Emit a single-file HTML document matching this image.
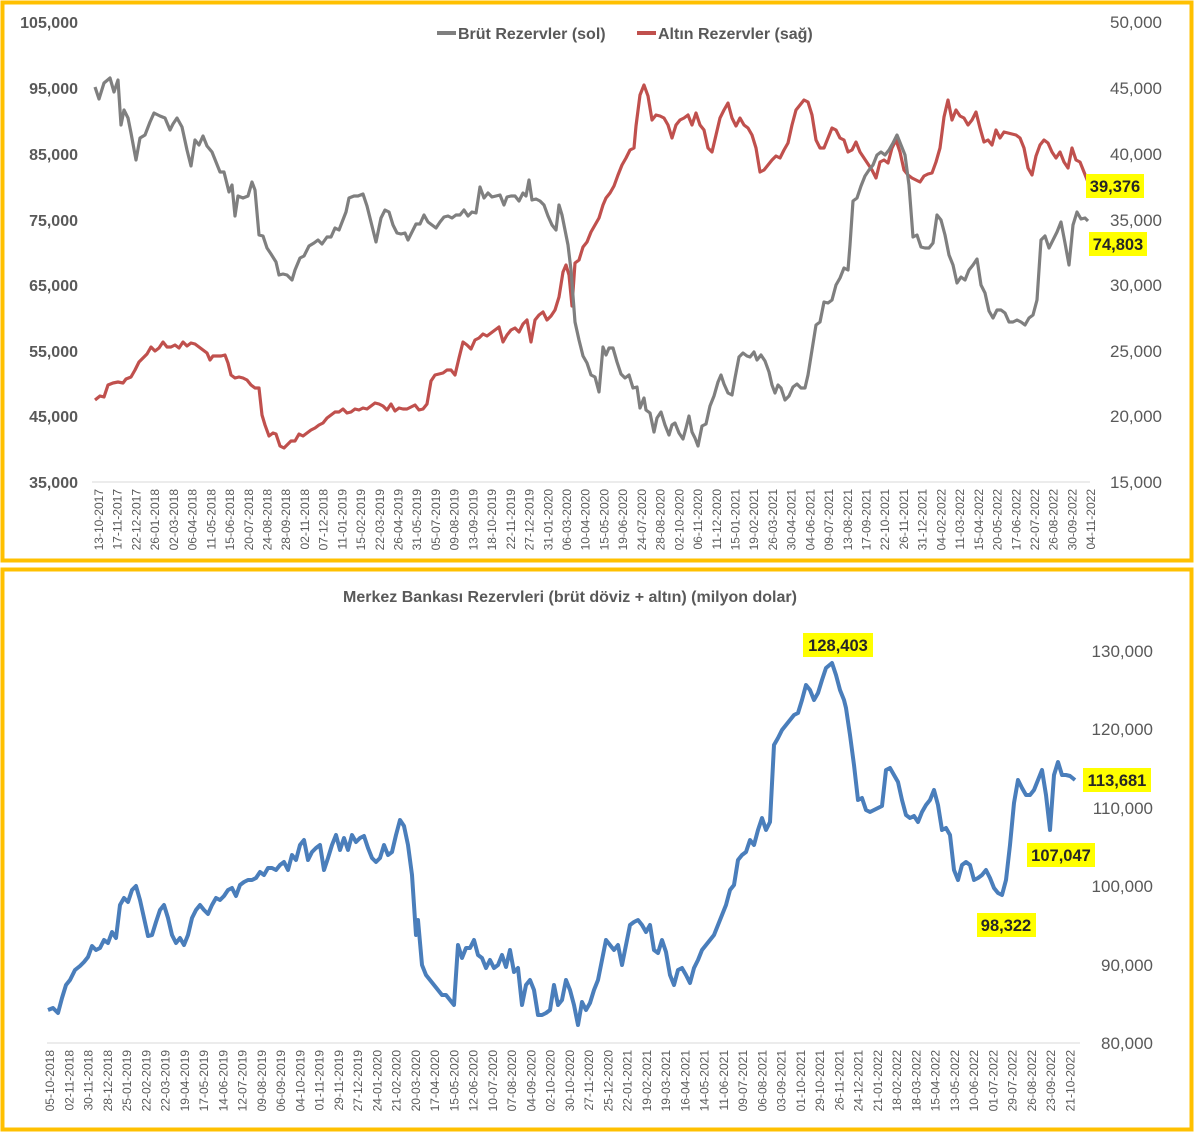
<!DOCTYPE html>
<html><head><meta charset="utf-8"><style>
html,body{margin:0;padding:0;background:#fff}
svg{display:block;font-family:"Liberation Sans",Arial,sans-serif}
.ax{font-size:16px;fill:#595959;font-weight:bold}
.xl{font-size:12px;fill:#595959}
.hl{font-size:16.5px;font-weight:bold;fill:#262626}
</style></head><body>
<svg width="1200" height="1133" viewBox="0 0 1200 1133" xmlns="http://www.w3.org/2000/svg">
<rect x="2.5" y="2.5" width="1189" height="558" fill="#fff" stroke="#FFC000" stroke-width="4"/>
<rect x="2.5" y="569.5" width="1189" height="560" fill="#fff" stroke="#FFC000" stroke-width="4"/>

<!-- TOP CHART -->
<line x1="92" y1="482" x2="1090" y2="482" stroke="#d9d9d9" stroke-width="1"/>
<g class="ax" text-anchor="end">
<text x="78" y="28">105,000</text><text x="78" y="94">95,000</text><text x="78" y="160">85,000</text><text x="78" y="226">75,000</text><text x="78" y="291">65,000</text><text x="78" y="357">55,000</text><text x="78" y="422">45,000</text><text x="78" y="488">35,000</text>
</g>
<g class="ax" text-anchor="end" style="font-weight:normal;font-size:17px">
<text x="1162" y="28">50,000</text><text x="1162" y="94">45,000</text><text x="1162" y="160">40,000</text><text x="1162" y="226">35,000</text><text x="1162" y="291">30,000</text><text x="1162" y="357">25,000</text><text x="1162" y="422">20,000</text><text x="1162" y="488">15,000</text>
</g>
<line x1="437" y1="33" x2="456" y2="33" stroke="#7f7f7f" stroke-width="4"/>
<text x="458" y="39" class="ax">Brüt Rezervler (sol)</text>
<line x1="637" y1="33" x2="656" y2="33" stroke="#C0504D" stroke-width="4"/>
<text x="658" y="39" class="ax">Altın Rezervler (sağ)</text>

<polyline fill="none" stroke="#C0504D" stroke-width="3.2" stroke-linejoin="round" points="95,400 100,396 104,397 108,385 113,383 118,382 123,383 126,379 131,377 135,370 139,362 143,358 147,354 151,347 155,351 159,348 163,342 167,347 171,347 175,345 179,348 183,342 187,346 191,343 195,344 199,347 203,350 207,353 210,360 213,356 217,356 221,356 225,355 228,363 231,375 235,378 239,377 243,378 247,380 251,385 255,388 259,388 262,415 265,425 269,436 273,433 276,434 280,446 284,448 288,444 291,441 295,441 299,434 303,436 307,433 311,430 315,428 319,425 323,423 327,418 331,415 335,412 339,412 343,409 347,413 351,412 355,409 359,410 363,408 367,409 371,406 375,403 379,404 383,406 387,410 391,404 395,411 399,408 403,409 407,409 411,407 415,405 419,410 423,409 427,404 431,381 435,375 439,374 443,373 447,370 451,370 455,375 459,358 463,342 467,345 471,349 475,340 479,338 483,334 487,336 491,333 495,330 499,327 503,342 507,335 511,330 515,328 519,332 523,324 527,320 531,342 535,320 539,315 543,312 547,320 551,316 555,310 559,297 563,272 566,265 569,275 572,306 575,263 579,260 583,247 587,242 591,232 595,225 599,218 603,205 606,198 610,193 614,186 618,175 622,165 626,158 630,150 634,148 636,126 640,95 644,85 648,96 652,120 656,115 660,116 664,118 668,125 672,138 676,125 680,120 684,118 688,115 692,125 696,113 700,125 704,130 708,148 712,152 716,135 720,118 724,110 728,103 732,118 736,126 740,118 744,125 748,128 752,135 756,148 760,172 764,170 768,165 772,160 776,156 780,158 784,150 788,143 792,125 796,110 800,105 804,100 808,102 812,115 816,140 820,148 824,148 828,138 832,128 836,130 840,138 844,140 848,152 852,150 856,142 860,152 864,158 868,164 872,170 876,178 880,162 884,160 888,163 892,148 896,140 900,152 904,170 908,175 912,178 916,180 920,182 924,176 928,174 932,173 936,162 940,148 944,117 948,100 952,120 956,110 960,116 964,118 968,125 972,120 976,112 980,128 984,142 988,140 992,145 996,130 1000,138 1004,132 1008,133 1012,134 1016,135 1020,138 1024,148 1028,168 1032,175 1036,156 1040,145 1044,140 1048,143 1052,152 1056,158 1060,152 1064,162 1068,168 1072,148 1076,160 1080,162 1084,172 1088,182"/>
<polyline fill="none" stroke="#7f7f7f" stroke-width="3.2" stroke-linejoin="round" points="95,87 99,99 104,83 110,78 114,92 118,80 121,125 124,110 128,118 131,133 136,160 140,138 145,135 150,122 154,113 160,116 165,118 170,130 173,124 177,118 182,127 187,150 191,166 195,140 199,145 203,136 207,146 212,152 216,162 220,172 224,172 229,192 232,185 235,216 238,196 243,198 248,196 252,182 255,190 259,235 263,236 267,248 271,254 276,262 279,275 283,274 287,275 292,280 295,270 300,258 304,256 309,246 314,243 318,240 322,244 327,237 331,237 335,228 339,230 346,212 349,198 354,196 358,196 363,194 367,206 372,226 376,242 381,218 385,210 389,212 393,225 397,233 401,234 405,233 408,240 412,232 416,224 420,224 424,215 428,222 432,225 436,228 440,222 444,217 448,216 452,218 456,215 460,215 464,210 468,216 472,212 476,213 480,187 484,198 488,193 492,197 496,196 500,195 504,205 507,197 511,196 515,196 519,201 523,193 526,196 529,180 532,200 536,199 540,201 544,205 548,216 552,225 556,230 559,205 562,215 565,230 568,245 571,270 575,322 579,340 583,356 587,363 591,375 595,377 599,392 603,347 606,355 609,348 613,348 617,362 621,374 625,378 629,375 633,388 637,387 640,408 644,398 646,410 650,413 654,432 657,418 661,412 665,425 669,435 672,425 675,423 679,433 683,439 686,428 689,416 692,432 695,438 698,446 702,426 706,424 710,406 714,396 718,382 721,375 724,384 728,393 732,395 735,378 739,357 743,353 747,356 750,357 754,352 757,360 761,355 765,361 769,372 772,385 775,393 778,385 781,388 785,400 789,396 793,387 797,384 801,388 805,388 808,375 812,350 816,325 820,322 824,302 828,303 832,300 836,285 840,278 844,268 848,270 850,245 853,201 857,198 861,186 865,176 869,170 873,165 877,155 881,152 885,155 889,150 893,143 897,135 901,145 905,155 909,185 913,237 917,235 921,247 925,248 929,248 933,243 937,215 941,220 945,235 949,255 953,265 957,283 961,277 965,280 969,270 973,265 977,259 981,285 985,293 989,311 993,318 997,310 1001,310 1005,313 1009,322 1013,322 1017,320 1021,322 1025,325 1029,318 1033,315 1037,300 1041,240 1045,236 1049,248 1053,240 1057,232 1061,222 1065,243 1069,265 1073,225 1077,212 1081,219 1085,218 1088,221"/>
<rect x="1086" y="174" width="58" height="24" fill="#FFFF00"/><text x="1115" y="192" class="hl" text-anchor="middle">39,376</text>
<rect x="1089" y="232" width="58" height="24" fill="#FFFF00"/><text x="1118" y="250" class="hl" text-anchor="middle">74,803</text>

<g class="xl" text-anchor="end">
<text transform="translate(103.0,489) rotate(-90)">13-10-2017</text><text transform="translate(121.7,489) rotate(-90)">17-11-2017</text><text transform="translate(140.4,489) rotate(-90)">22-12-2017</text><text transform="translate(159.2,489) rotate(-90)">26-01-2018</text><text transform="translate(177.9,489) rotate(-90)">02-03-2018</text><text transform="translate(196.6,489) rotate(-90)">06-04-2018</text><text transform="translate(215.3,489) rotate(-90)">11-05-2018</text><text transform="translate(234.0,489) rotate(-90)">15-06-2018</text><text transform="translate(252.8,489) rotate(-90)">20-07-2018</text><text transform="translate(271.5,489) rotate(-90)">24-08-2018</text><text transform="translate(290.2,489) rotate(-90)">28-09-2018</text><text transform="translate(308.9,489) rotate(-90)">02-11-2018</text><text transform="translate(327.6,489) rotate(-90)">07-12-2018</text><text transform="translate(346.4,489) rotate(-90)">11-01-2019</text><text transform="translate(365.1,489) rotate(-90)">15-02-2019</text><text transform="translate(383.8,489) rotate(-90)">22-03-2019</text><text transform="translate(402.5,489) rotate(-90)">26-04-2019</text><text transform="translate(421.2,489) rotate(-90)">31-05-2019</text><text transform="translate(440.0,489) rotate(-90)">05-07-2019</text><text transform="translate(458.7,489) rotate(-90)">09-08-2019</text><text transform="translate(477.4,489) rotate(-90)">13-09-2019</text><text transform="translate(496.1,489) rotate(-90)">18-10-2019</text><text transform="translate(514.8,489) rotate(-90)">22-11-2019</text><text transform="translate(533.6,489) rotate(-90)">27-12-2019</text><text transform="translate(552.3,489) rotate(-90)">31-01-2020</text><text transform="translate(571.0,489) rotate(-90)">06-03-2020</text><text transform="translate(589.7,489) rotate(-90)">10-04-2020</text><text transform="translate(608.4,489) rotate(-90)">15-05-2020</text><text transform="translate(627.2,489) rotate(-90)">19-06-2020</text><text transform="translate(645.9,489) rotate(-90)">24-07-2020</text><text transform="translate(664.6,489) rotate(-90)">28-08-2020</text><text transform="translate(683.3,489) rotate(-90)">02-10-2020</text><text transform="translate(702.0,489) rotate(-90)">06-11-2020</text><text transform="translate(720.8,489) rotate(-90)">11-12-2020</text><text transform="translate(739.5,489) rotate(-90)">15-01-2021</text><text transform="translate(758.2,489) rotate(-90)">19-02-2021</text><text transform="translate(776.9,489) rotate(-90)">26-03-2021</text><text transform="translate(795.6,489) rotate(-90)">30-04-2021</text><text transform="translate(814.4,489) rotate(-90)">04-06-2021</text><text transform="translate(833.1,489) rotate(-90)">09-07-2021</text><text transform="translate(851.8,489) rotate(-90)">13-08-2021</text><text transform="translate(870.5,489) rotate(-90)">17-09-2021</text><text transform="translate(889.2,489) rotate(-90)">22-10-2021</text><text transform="translate(908.0,489) rotate(-90)">26-11-2021</text><text transform="translate(926.7,489) rotate(-90)">31-12-2021</text><text transform="translate(945.4,489) rotate(-90)">04-02-2022</text><text transform="translate(964.1,489) rotate(-90)">11-03-2022</text><text transform="translate(982.8,489) rotate(-90)">15-04-2022</text><text transform="translate(1001.6,489) rotate(-90)">20-05-2022</text><text transform="translate(1020.3,489) rotate(-90)">17-06-2022</text><text transform="translate(1039.0,489) rotate(-90)">22-07-2022</text><text transform="translate(1057.7,489) rotate(-90)">26-08-2022</text><text transform="translate(1076.4,489) rotate(-90)">30-09-2022</text><text transform="translate(1095.2,489) rotate(-90)">04-11-2022</text>
</g>

<!-- BOTTOM CHART -->
<text x="570" y="602" class="ax" text-anchor="middle">Merkez Bankası Rezervleri (brüt döviz + altın) (milyon dolar)</text>
<line x1="47" y1="1043" x2="1080" y2="1043" stroke="#d9d9d9" stroke-width="1"/>
<g class="ax" text-anchor="end" style="font-weight:normal;font-size:17px">
<text x="1153" y="657">130,000</text><text x="1153" y="735">120,000</text><text x="1153" y="814">110,000</text><text x="1153" y="892">100,000</text><text x="1153" y="971">90,000</text><text x="1153" y="1049">80,000</text>
</g>
<polyline fill="none" stroke="#4A7EBB" stroke-width="4" stroke-linejoin="round" points="48,1010 53,1008 58,1013 62,998 66,985 70,980 75,970 80,966 84,962 88,957 92,946 96,950 100,948 104,940 108,943 112,932 116,938 120,905 124,898 128,902 132,890 136,886 140,900 144,918 148,936 152,935 156,922 160,910 164,905 168,918 172,935 176,943 180,938 184,945 188,935 192,918 196,910 200,905 204,910 208,914 212,905 216,898 220,900 224,896 228,890 232,888 236,896 240,885 244,882 248,880 252,880 256,878 260,872 264,875 268,868 272,868 276,870 280,865 284,862 288,870 292,855 296,860 300,845 304,840 308,860 312,852 316,848 320,845 324,870 328,858 332,845 336,835 340,850 344,838 348,850 352,835 356,842 360,838 364,836 368,848 372,858 376,862 380,858 384,845 388,855 392,852 396,835 400,820 404,826 408,845 412,875 416,935 418,920 422,965 426,975 430,980 434,985 438,990 442,995 446,995 450,1000 454,1005 458,945 462,958 466,948 470,948 474,940 478,955 482,958 486,968 490,960 494,968 498,965 502,955 506,967 510,950 514,972 518,968 522,1005 526,985 530,980 534,990 538,1015 542,1015 546,1013 550,1010 554,985 558,1005 562,1000 566,980 570,990 574,1005 578,1025 582,1002 586,1010 590,1003 594,990 598,980 602,960 606,940 610,945 614,950 618,945 622,965 626,945 630,925 634,922 638,920 642,925 646,932 650,925 654,950 658,953 662,940 666,952 670,975 674,985 678,970 682,968 686,975 690,983 694,968 698,960 702,950 706,945 710,940 714,935 718,925 722,915 726,905 730,890 734,885 738,860 742,855 746,852 750,840 754,845 758,830 762,818 766,830 770,822 774,745 778,738 782,730 786,725 790,720 794,715 798,713 802,700 806,685 810,690 814,700 818,693 822,680 826,668 832,663 836,675 840,690 844,700 846,708 850,735 854,765 858,800 862,798 866,810 870,812 874,810 878,808 882,806 886,770 890,768 894,775 898,782 902,800 906,815 910,818 914,816 918,822 922,812 926,805 930,800 934,790 938,805 942,830 946,828 950,835 954,870 958,880 962,865 966,862 970,865 974,880 978,878 982,875 986,870 990,878 994,888 998,893 1002,895 1006,880 1010,845 1014,803 1018,780 1022,788 1026,795 1030,795 1034,790 1038,780 1042,770 1046,795 1050,830 1054,775 1058,762 1062,775 1066,775 1070,776 1075,780"/>
<rect x="803" y="633" width="70" height="24" fill="#FFFF00"/><text x="838" y="651" class="hl" text-anchor="middle">128,403</text>
<rect x="1083" y="768" width="68" height="24" fill="#FFFF00"/><text x="1117" y="786" class="hl" text-anchor="middle">113,681</text>
<rect x="1027" y="843" width="68" height="24" fill="#FFFF00"/><text x="1061" y="861" class="hl" text-anchor="middle">107,047</text>
<rect x="977" y="913" width="59" height="24" fill="#FFFF00"/><text x="1006" y="931" class="hl" text-anchor="middle">98,322</text>

<g class="xl" text-anchor="end">
<text transform="translate(54.0,1050) rotate(-90)">05-10-2018</text><text transform="translate(73.3,1050) rotate(-90)">02-11-2018</text><text transform="translate(92.5,1050) rotate(-90)">30-11-2018</text><text transform="translate(111.8,1050) rotate(-90)">28-12-2018</text><text transform="translate(131.0,1050) rotate(-90)">25-01-2019</text><text transform="translate(150.3,1050) rotate(-90)">22-02-2019</text><text transform="translate(169.5,1050) rotate(-90)">22-03-2019</text><text transform="translate(188.8,1050) rotate(-90)">19-04-2019</text><text transform="translate(208.0,1050) rotate(-90)">17-05-2019</text><text transform="translate(227.3,1050) rotate(-90)">14-06-2019</text><text transform="translate(246.5,1050) rotate(-90)">12-07-2019</text><text transform="translate(265.8,1050) rotate(-90)">09-08-2019</text><text transform="translate(285.0,1050) rotate(-90)">06-09-2019</text><text transform="translate(304.3,1050) rotate(-90)">04-10-2019</text><text transform="translate(323.5,1050) rotate(-90)">01-11-2019</text><text transform="translate(342.8,1050) rotate(-90)">29-11-2019</text><text transform="translate(362.0,1050) rotate(-90)">27-12-2019</text><text transform="translate(381.3,1050) rotate(-90)">24-01-2020</text><text transform="translate(400.5,1050) rotate(-90)">21-02-2020</text><text transform="translate(419.8,1050) rotate(-90)">20-03-2020</text><text transform="translate(439.0,1050) rotate(-90)">17-04-2020</text><text transform="translate(458.3,1050) rotate(-90)">15-05-2020</text><text transform="translate(477.5,1050) rotate(-90)">12-06-2020</text><text transform="translate(496.8,1050) rotate(-90)">10-07-2020</text><text transform="translate(516.0,1050) rotate(-90)">07-08-2020</text><text transform="translate(535.3,1050) rotate(-90)">04-09-2020</text><text transform="translate(554.5,1050) rotate(-90)">02-10-2020</text><text transform="translate(573.8,1050) rotate(-90)">30-10-2020</text><text transform="translate(593.0,1050) rotate(-90)">27-11-2020</text><text transform="translate(612.3,1050) rotate(-90)">25-12-2020</text><text transform="translate(631.5,1050) rotate(-90)">22-01-2021</text><text transform="translate(650.8,1050) rotate(-90)">19-02-2021</text><text transform="translate(670.0,1050) rotate(-90)">19-03-2021</text><text transform="translate(689.3,1050) rotate(-90)">16-04-2021</text><text transform="translate(708.5,1050) rotate(-90)">14-05-2021</text><text transform="translate(727.8,1050) rotate(-90)">11-06-2021</text><text transform="translate(747.0,1050) rotate(-90)">09-07-2021</text><text transform="translate(766.3,1050) rotate(-90)">06-08-2021</text><text transform="translate(785.5,1050) rotate(-90)">03-09-2021</text><text transform="translate(804.8,1050) rotate(-90)">01-10-2021</text><text transform="translate(824.0,1050) rotate(-90)">29-10-2021</text><text transform="translate(843.3,1050) rotate(-90)">26-11-2021</text><text transform="translate(862.5,1050) rotate(-90)">24-12-2021</text><text transform="translate(881.8,1050) rotate(-90)">21-01-2022</text><text transform="translate(901.0,1050) rotate(-90)">18-02-2022</text><text transform="translate(920.3,1050) rotate(-90)">18-03-2022</text><text transform="translate(939.5,1050) rotate(-90)">15-04-2022</text><text transform="translate(958.8,1050) rotate(-90)">13-05-2022</text><text transform="translate(978.0,1050) rotate(-90)">10-06-2022</text><text transform="translate(997.3,1050) rotate(-90)">01-07-2022</text><text transform="translate(1016.5,1050) rotate(-90)">29-07-2022</text><text transform="translate(1035.8,1050) rotate(-90)">26-08-2022</text><text transform="translate(1055.0,1050) rotate(-90)">23-09-2022</text><text transform="translate(1074.3,1050) rotate(-90)">21-10-2022</text>
</g>
</svg>
</body></html>
